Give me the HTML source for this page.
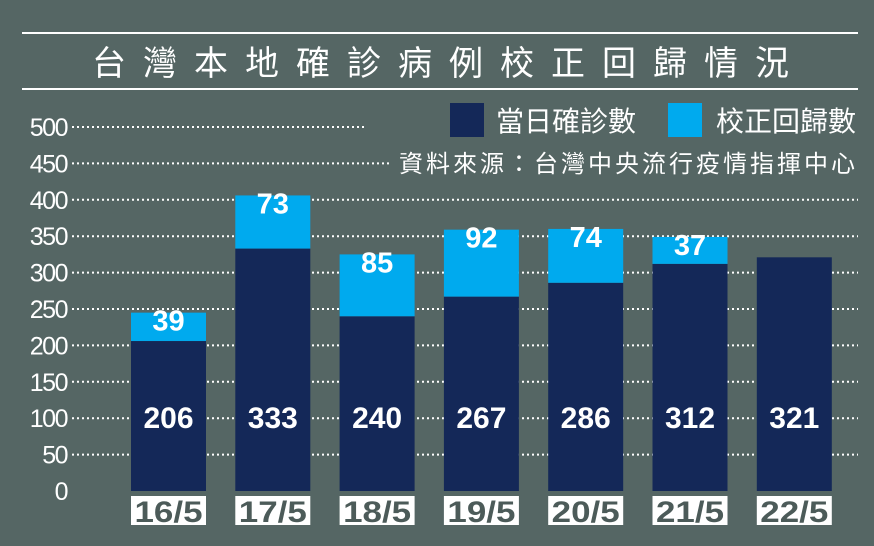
<!DOCTYPE html>
<html><head><meta charset="utf-8">
<style>
html,body{margin:0;padding:0;background:#556664;}
svg{display:block;}
text{font-family:"Liberation Sans","Noto Sans CJK TC",sans-serif;}
</style></head>
<body>
<svg width="874" height="546" viewBox="0 0 874 546" xmlns="http://www.w3.org/2000/svg">
<rect width="874" height="546" fill="#556664"/>
<line x1="22" y1="33" x2="858" y2="33" stroke="#fff" stroke-width="2"/>
<line x1="22" y1="89" x2="858" y2="89" stroke="#fff" stroke-width="2"/>
<text x="449" y="75" text-anchor="middle" fill="#fff" font-size="34" letter-spacing="17">台灣本地確診病例校正回歸情況</text>
<rect x="450" y="103" width="34" height="34" fill="#142858"/>
<text x="496" y="131" fill="#fff" font-size="28">當日確診數</text>
<rect x="668" y="103" width="34" height="34" fill="#00aaee"/>
<text x="716" y="131" fill="#fff" font-size="28">校正回歸數</text>
<g id="axis"></g>
<g id="bars"></g>
<text x="858" y="172" text-anchor="end" fill="#fff" font-size="24" letter-spacing="3" font-family="'Noto Serif CJK SC',serif">資料來源：台灣中央流行疫情指揮中心</text>
</svg>
<script>
const categories=["16/5","17/5","18/5","19/5","20/5","21/5","22/5"];
const dailyCases=[206,333,240,267,286,312,321];
const correctedCases=[39,73,85,92,74,37,0];
const yTicks=[0,50,100,150,200,250,300,350,400,450,500];
const NS="http://www.w3.org/2000/svg";
const y0=491,yMax=127;
function yScale(v){return y0-(y0-yMax)*v/500;}
function xScale(i){return 131+i*104.3;}
const bw=75;
const axis=document.getElementById('axis');
yTicks.forEach(t=>{
  const y=yScale(t);
  const tx=document.createElementNS(NS,'text');
  
  
  tx.setAttribute('x',67);tx.setAttribute('y',y+9);tx.setAttribute('text-anchor','end');
  tx.setAttribute('fill','#fff');tx.setAttribute('font-size','25');tx.setAttribute('letter-spacing','-1.5');
  tx.textContent=t;axis.appendChild(tx);
  if(t>0){
    const ln=document.createElementNS(NS,'line');
    
    
    ln.setAttribute('x1',72);ln.setAttribute('x2',t>=450?(t==500?365:390):858);
    ln.setAttribute('y1',y);ln.setAttribute('y2',y);
    ln.setAttribute('stroke','#fff');ln.setAttribute('stroke-width','2');
    ln.setAttribute('stroke-dasharray','2 3');axis.appendChild(ln);
  }
});
const bars=document.getElementById('bars');
categories.forEach((c,i)=>{
  const x=xScale(i),d=dailyCases[i],k=correctedCases[i];
  const r=document.createElementNS(NS,'rect');
  
  
  r.setAttribute('x',x);r.setAttribute('y',yScale(d));r.setAttribute('width',bw);
  r.setAttribute('height',y0-yScale(d));r.setAttribute('fill','#142858');bars.appendChild(r);
  const dt=document.createElementNS(NS,'text');
  
  
  dt.setAttribute('x',x+bw/2);dt.setAttribute('y',428);dt.setAttribute('text-anchor','middle');
  dt.setAttribute('fill','#fff');dt.setAttribute('font-size','30');dt.setAttribute('font-weight','bold');
  dt.textContent=d;bars.appendChild(dt);
  if(k>0){
    const r2=document.createElementNS(NS,'rect');
    
    
    r2.setAttribute('x',x);r2.setAttribute('y',yScale(d+k));r2.setAttribute('width',bw);
    r2.setAttribute('height',yScale(d)-yScale(d+k));r2.setAttribute('fill','#00aaee');bars.appendChild(r2);
    const kt=document.createElementNS(NS,'text');
    
    
    kt.setAttribute('x',x+bw/2);kt.setAttribute('y',yScale(d+k)+18);kt.setAttribute('text-anchor','middle');
    kt.setAttribute('fill','#fff');kt.setAttribute('font-size','29');kt.setAttribute('font-weight','bold');
    kt.textContent=k;bars.appendChild(kt);
  }
  const lb=document.createElementNS(NS,'rect');
  
  
  lb.setAttribute('x',x);lb.setAttribute('y',496);lb.setAttribute('width',bw);lb.setAttribute('height',29);
  lb.setAttribute('fill','#fff');bars.appendChild(lb);
  const lt=document.createElementNS(NS,'text');
  
  
  lt.setAttribute('x',x+bw/2);lt.setAttribute('y',522);lt.setAttribute('text-anchor','middle');
  lt.setAttribute('fill','#4c5b59');lt.setAttribute('font-size','30');lt.setAttribute('font-weight','bold');
  lt.setAttribute('textLength','68');lt.setAttribute('lengthAdjust','spacingAndGlyphs');
  lt.textContent=c;bars.appendChild(lt);
});
</script>
</body></html>
